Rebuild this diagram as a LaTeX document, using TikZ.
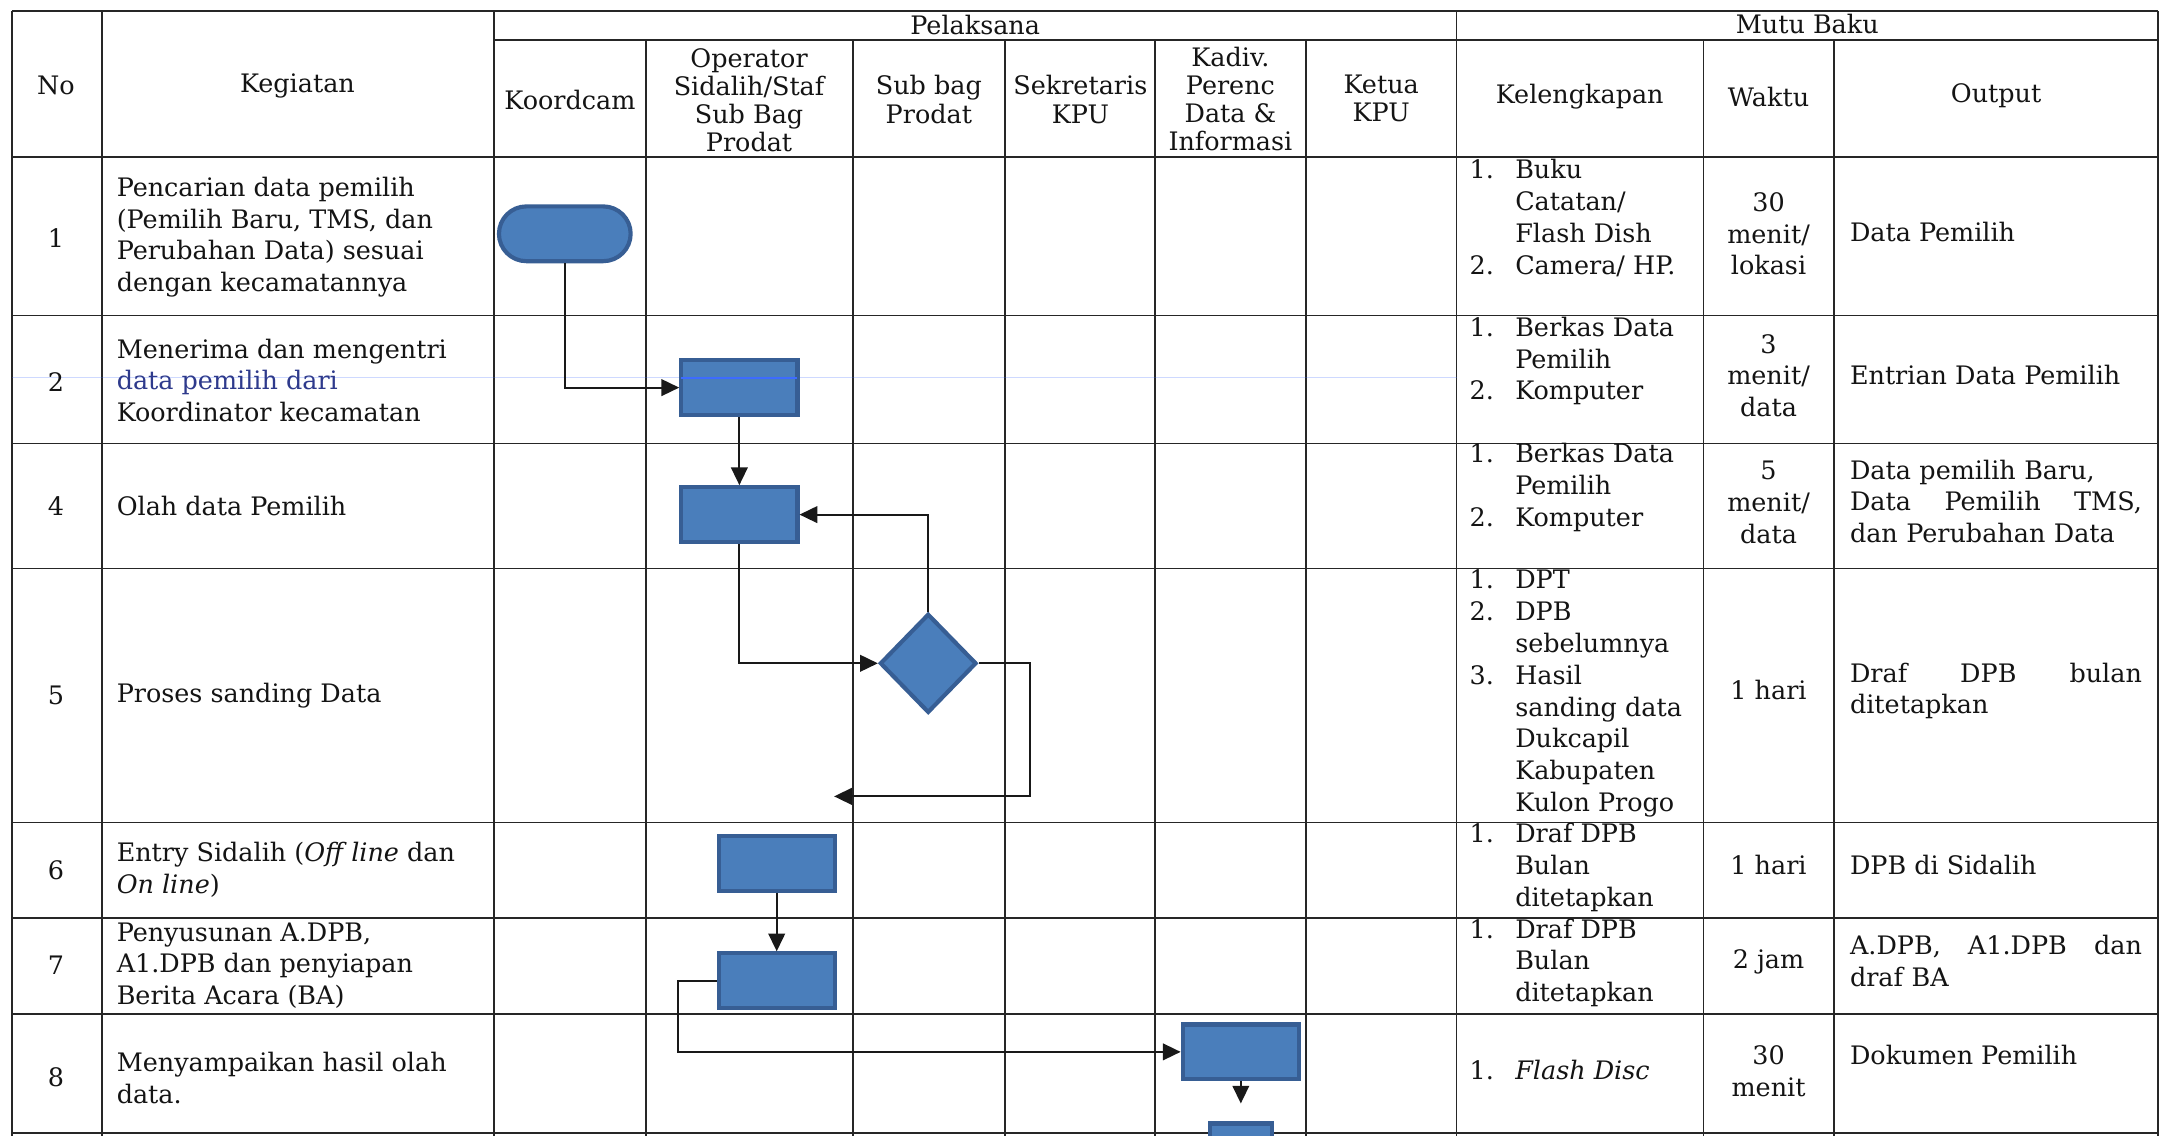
\documentclass[tikz,border=0pt]{standalone}
\usepackage{fontspec}
\setmainfont{DejaVu Serif}
\usetikzlibrary{arrows.meta,shapes,positioning}

\definecolor{boxfill}{HTML}{4A7EBB}
\definecolor{boxline}{HTML}{375E94}
\definecolor{inkblue}{HTML}{2E3A8C}
\definecolor{scanblue}{HTML}{3D6BFF}

\newcommand{\kelitems}[1]{\begin{tabular}{@{}p{16.5pt}@{}l@{}}#1\end{tabular}}

\tikzset{
  tabline/.style={line width=0.6pt, black!85},
  flow/.style={line width=0.7pt, black!90, -{Triangle[length=6.4pt,width=6pt]}},
  proc/.style={rectangle, draw=boxline, fill=boxfill, line width=1.5pt, minimum width=42pt, minimum height=19.8pt, inner sep=0pt},
  term/.style={rounded rectangle, draw=boxline, fill=boxfill, line width=1.5pt, minimum width=47.6pt, minimum height=19.8pt, inner sep=0pt},
  decide/.style={diamond, draw=boxline, fill=boxfill, line width=1.5pt, minimum width=34.9pt, minimum height=35.8pt, inner sep=0pt},
  cell/.style={inner sep=0pt, text=black!92, font=\fontsize{9.2}{11.5}\selectfont},
  hcell/.style={cell, align=center, font=\fontsize{9.2}{10.2}\selectfont},
  ccell/.style={cell, align=center},
  lcell/.style={cell, anchor=west, align=left},
  ocell/.style={lcell, text width=105.5pt}
}

\begin{document}
\begin{tikzpicture}[x=0.5pt, y=-0.5pt]
  \useasboundingbox (0,0) rectangle (1568,821);
  \clip (0,0) rectangle (1568,821);
  \fill [white] (0,0) rectangle (1568,821);

  % table frame
  \draw [tabline] (8.5,8) -- (1560,8);
  \draw [tabline] (357,29) -- (1560,29);
  \foreach \y in {113.5,228,320.5,411,594.5,663.5,733,819}
    \draw [tabline] (8.5,\y) -- (1560,\y);
  \foreach \x in {8.5,73.5,357,1053,1560}
    \draw [tabline] (\x,8) -- (\x,822);
  \foreach \x in {467,616.5,726.5,835,944,1231.5,1326}
    \draw [tabline] (\x,29) -- (\x,822);

  % scan trace
  \draw [scanblue, opacity=0.25, line width=0.5pt] (8.5,273) -- (1053,273);

  % header
  \node (hno) [hcell] at (40.5,62) {No};
  \node (hkeg) [hcell] at (215,62) {Kegiatan};
  \node (hpel) [hcell] at (705,18) {Pelaksana};
  \node (hmutu) [hcell] at (1306.5,17) {Mutu Baku};
  \node (hkoord) [hcell] at (412,72) {Koordcam};
  \node (hop) [hcell] at (541.5,72.5) {Operator\\Sidalih/Staf\\Sub Bag\\Prodat};
  \node (hsub) [hcell] at (671.5,72) {Sub bag\\Prodat};
  \node (hsek) [hcell] at (781,72) {Sekretaris\\KPU};
  \node (hkadiv) [hcell] at (889.5,71.5) {Kadiv.\\Perenc\\Data \&\\Informasi};
  \node (hketua) [hcell] at (998.5,71) {Ketua\\KPU};
  \node (hkel) [hcell] at (1142,70) {Kelengkapan};
  \node (hwaktu) [hcell] at (1278.5,70) {Waktu};
  \node (hout) [hcell] at (1443,69) {Output};

  % row 1
  \node (no1) [ccell] at (40.5,172) {1};
  \node (keg1) [lcell] at (84,171.5) {Pencarian data pemilih\\(Pemilih Baru, TMS, dan\\Perubahan Data) sesuai\\dengan kecamatannya};
  \node (kel1) [lcell] at (1062,159) {\kelitems{1.&Buku\\&Catatan/\\&Flash Dish\\2.&Camera/ HP.}};
  \node (wak1) [ccell] at (1278.5,169) {30\\menit/\\lokasi};
  \node (out1) [lcell] at (1337,168) {Data Pemilih};

  % row 2
  \node (no2) [ccell] at (40.5,276) {2};
  \node (keg2) [lcell] at (84,275) {Menerima dan mengentri\\\textcolor{inkblue}{data pemilih dari}\\Koordinator kecamatan};
  \node (kel2) [lcell] at (1062,261.5) {\kelitems{1.&Berkas Data\\&Pemilih\\2.&Komputer}};
  \node (wak2) [ccell] at (1278.5,271.5) {3\\menit/\\data};
  \node (out2) [lcell] at (1337,271) {Entrian Data Pemilih};

  % row 4
  \node (no4) [ccell] at (40.5,366) {4};
  \node (keg4) [lcell] at (84,366) {Olah data Pemilih};
  \node (kel4) [lcell] at (1062,353) {\kelitems{1.&Berkas Data\\&Pemilih\\2.&Komputer}};
  \node (wak4) [ccell] at (1278.5,363) {5\\menit/\\data};
  \node (out4) [ocell] at (1337,362.5) {Data pemilih Baru,\\Data\hfill Pemilih\hfill TMS,\\dan Perubahan Data};

  % row 5
  \node (no5) [ccell] at (40.5,503) {5};
  \node (keg5) [lcell] at (84,503) {Proses sanding Data};
  \node (kel5) [lcell] at (1062,501.5) {\kelitems{1.&DPT\\2.&DPB\\&sebelumnya\\3.&Hasil\\&sanding data\\&Dukcapil\\&Kabupaten\\&Kulon Progo}};
  \node (wak5) [ccell] at (1278.5,499) {1 hari};
  \node (out5) [ocell] at (1337,499.5) {Draf\hfill DPB\hfill bulan\\ditetapkan};

  % row 6
  \node (no6) [ccell] at (40.5,629) {6};
  \node (keg6) [lcell] at (84,628.5) {Entry Sidalih (\textit{Off line} dan\\\textit{On line})};
  \node (kel6) [lcell] at (1062,627.5) {\kelitems{1.&Draf DPB\\&Bulan\\&ditetapkan}};
  \node (wak6) [ccell] at (1278.5,625) {1 hari};
  \node (out6) [lcell] at (1337,625) {DPB di Sidalih};

  % row 7
  \node (no7) [ccell] at (40.5,698) {7};
  \node (keg7) [lcell] at (84,698) {Penyusunan A.DPB,\\A1.DPB dan penyiapan\\Berita Acara (BA)};
  \node (kel7) [lcell] at (1062,696.5) {\kelitems{1.&Draf DPB\\&Bulan\\&ditetapkan}};
  \node (wak7) [ccell] at (1278.5,695) {2 jam};
  \node (out7) [ocell] at (1337,695) {A.DPB,\hfill A1.DPB\hfill dan\\draf BA};

  % row 8
  \node (no8) [ccell] at (40.5,779) {8};
  \node (keg8) [lcell] at (84,779.5) {Menyampaikan hasil olah\\data.};
  \node (kel8) [lcell] at (1062,776) {\kelitems{1.&\textit{Flash Disc}}};
  \node (wak8) [ccell] at (1278.5,774.5) {30\\menit};
  \node (out8) [lcell] at (1337,763) {Dokumen Pemilih};

  % flow shapes
  \node (start) [term] at (408.3,169) {};
  \node (entri) [proc] at (534.5,280.2) {};
  \node (olah) [proc] at (534.5,372) {};
  \node (cek) [decide] at (671,479.5) {};
  \coordinate (balik) at (603,575.7);
  \node (sidalih) [proc] at (561.5,624) {};
  \node (susun) [proc] at (561.5,709) {};
  \node (kirim) [proc] at (897,760.4) {};
  \node (lanjut) [proc, minimum width=22.4pt] at (897,832) {};
  \draw [scanblue, line width=0.8pt] (492.5,273) -- (576.5,273);

  \draw [flow] (start.south) |- (entri.west);
  \draw [flow] (entri) -- (olah);
  \draw [flow] (olah.south) |- (cek.west);
  \draw [flow] (cek.north) |- (olah.east);
  \draw [flow] (cek.east) -- ++(37,0) |- (balik);
  \draw [flow] (sidalih) -- (susun);
  \draw [flow] (susun.west) -- ++(-28,0) |- (kirim.west);
  \draw [flow, shorten >=6.5pt] (kirim) -- (lanjut);
\end{tikzpicture}
\end{document}
